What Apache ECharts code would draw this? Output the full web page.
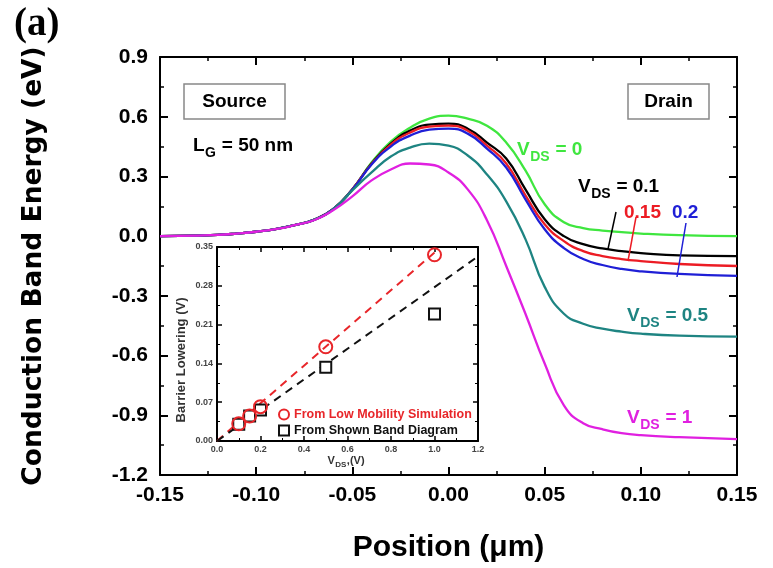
<!DOCTYPE html>
<html><head><meta charset="utf-8">
<script src="https://cdn.jsdelivr.net/npm/echarts@6/dist/echarts.min.js"></script>
<style>html,body{margin:0;padding:0;background:#fff}#c{width:773px;height:568px}</style>
</head><body><div id="c"></div>
<script>
// ---- main chart data ----
const positions = [-0.15, -0.13, -0.12, -0.11, -0.10, -0.09, -0.08, -0.07, -0.06, -0.05, -0.04, -0.03, -0.02, -0.01, 0.0, 0.01, 0.02, 0.03, 0.04, 0.05, 0.06, 0.07, 0.08, 0.09, 0.10, 0.12, 0.15];
const vds0   = [0, 0.003, 0.006, 0.013, 0.022, 0.035, 0.055, 0.082, 0.135, 0.235, 0.37, 0.475, 0.545, 0.59, 0.605, 0.59, 0.555, 0.47, 0.33, 0.16, 0.07, 0.04, 0.028, 0.02, 0.013, 0.005, 0];
const vds01  = [0, 0.003, 0.006, 0.013, 0.022, 0.035, 0.055, 0.082, 0.135, 0.235, 0.365, 0.465, 0.53, 0.56, 0.565, 0.54, 0.47, 0.39, 0.235, 0.085, 0.0, -0.04, -0.062, -0.075, -0.085, -0.097, -0.1];
const vds015 = [0, 0.003, 0.006, 0.013, 0.022, 0.035, 0.055, 0.082, 0.135, 0.235, 0.363, 0.46, 0.52, 0.55, 0.555, 0.53, 0.455, 0.365, 0.205, 0.06, -0.025, -0.075, -0.1, -0.115, -0.125, -0.14, -0.15];
const vds02  = [0, 0.003, 0.006, 0.013, 0.022, 0.035, 0.055, 0.082, 0.135, 0.234, 0.36, 0.45, 0.505, 0.535, 0.54, 0.515, 0.44, 0.345, 0.185, 0.035, -0.06, -0.115, -0.145, -0.165, -0.177, -0.19, -0.2];
const vds05  = [0, 0.003, 0.006, 0.013, 0.022, 0.035, 0.055, 0.082, 0.135, 0.23, 0.32, 0.40, 0.445, 0.465, 0.455, 0.405, 0.31, 0.175, -0.015, -0.255, -0.39, -0.44, -0.465, -0.48, -0.49, -0.5, -0.505];
const vds1   = [0, 0.003, 0.006, 0.013, 0.022, 0.035, 0.055, 0.08, 0.13, 0.20, 0.28, 0.335, 0.365, 0.36, 0.32, 0.235, 0.08, -0.15, -0.39, -0.64, -0.85, -0.94, -0.97, -0.99, -1.0, -1.01, -1.02];

// ---- inset data ----
const insetVds = [0.1, 0.15, 0.2, 0.5, 1.0];
const simLowering = [0.031, 0.045, 0.062, 0.17, 0.336];
const bandLowering = [0.03, 0.045, 0.056, 0.133, 0.229];
const simFitX = [0, 1.0];
const simFitY = [0, 0.34];
const bandFitX = [0, 1.2];
const bandFitY = [0, 0.333];

const zip = (xs, ys) => xs.map((x, i) => [x, ys[i]]);
const F = '"Liberation Sans", Arial, sans-serif';
const FD = '"DejaVu Sans", "Liberation Sans", sans-serif';

const mctx = document.createElement('canvas').getContext('2d');
function tw(text, font) { mctx.font = font; return mctx.measureText(text).width; }

// main text + subscript + rest, centered vertically on y (main text)
function subLabel(x, y, color, main, sub, rest, size, subSize) {
  const fm = 'bold ' + size + 'px ' + F;
  const fs = 'bold ' + subSize + 'px ' + F;
  const w1 = tw(main, fm), w2 = tw(sub, fs);
  const els = [
    {type: 'text', x: x, y: y, z: 10, style: {text: main, fill: color, font: fm, textVerticalAlign: 'middle'}},
    {type: 'text', x: x + w1 + 0.5, y: y + size * 0.38, z: 10, style: {text: sub, fill: color, font: fs, textVerticalAlign: 'middle'}}
  ];
  if (rest) els.push({type: 'text', x: x + w1 + w2 + 1, y: y, z: 10, style: {text: rest, fill: color, font: fm, textVerticalAlign: 'middle', whiteSpace: 'pre'}});
  return els;
}
function centeredSubLabel(cx, y, color, main, sub, rest, size, subSize) {
  const fm = 'bold ' + size + 'px ' + F, fs = 'bold ' + subSize + 'px ' + F;
  const total = tw(main, fm) + tw(sub, fs) + tw(rest, fm) + 1;
  return subLabel(cx - total / 2, y, color, main, sub, rest, size, subSize);
}

const chart = echarts.init(document.getElementById('c'), null, {renderer: 'canvas'});

function mainLine(name, ys, color) {
  return {type: 'line', name, xAxisIndex: 0, yAxisIndex: 0, data: zip(positions, ys),
    smooth: 0.5, showSymbol: false, symbol: 'none',
    lineStyle: {color, width: 2.3}, itemStyle: {color}, z: 3};
}

const axisCommon = {
  axisLine: {show: true, onZero: false, lineStyle: {color: '#000', width: 2}},
  axisTick: {show: true, inside: true, length: 8, lineStyle: {color: '#000', width: 2}},
  minorTick: {show: true, splitNumber: 2, length: 4, lineStyle: {color: '#000', width: 1.5}},
  splitLine: {show: false}
};
const insetAxis = {
  axisLine: {show: true, onZero: false, lineStyle: {color: '#000', width: 2}},
  axisTick: {show: true, inside: true, length: 5, lineStyle: {color: '#000', width: 1.5}},
  minorTick: {show: true, splitNumber: 2, length: 3, lineStyle: {color: '#000', width: 1}},
  splitLine: {show: false}
};

const graphics = [
  {type: 'text', left: 14, top: 5, style: {text: '(a)', fill: '#000', font: 'bold 39px "Liberation Serif", "Times New Roman", serif'}},
  {type: 'rect', shape: {x: 184, y: 84, width: 101, height: 35}, style: {fill: '#fff', stroke: '#888', lineWidth: 1.5}, z: 9},
  {type: 'text', x: 234.5, y: 101.5, z: 10, style: {text: 'Source', fill: '#000', textAlign: 'center', textVerticalAlign: 'middle', font: 'bold 19px ' + F}},
  {type: 'rect', shape: {x: 628, y: 84, width: 81, height: 35}, style: {fill: '#fff', stroke: '#888', lineWidth: 1.5}, z: 9},
  {type: 'text', x: 668.5, y: 101.5, z: 10, style: {text: 'Drain', fill: '#000', textAlign: 'center', textVerticalAlign: 'middle', font: 'bold 19px ' + F}},
  {type: 'text', x: 624, y: 213, z: 10, style: {text: '0.15', fill: '#ec1c24', textVerticalAlign: 'middle', font: 'bold 19px ' + F}},
  {type: 'text', x: 672, y: 213, z: 10, style: {text: '0.2', fill: '#1f1fd6', textVerticalAlign: 'middle', font: 'bold 19px ' + F}},
  {type: 'line', z: 10, shape: {x1: 616, y1: 212, x2: 608, y2: 249}, style: {stroke: '#000', lineWidth: 1.5}},
  {type: 'line', z: 10, shape: {x1: 636, y1: 217, x2: 628, y2: 261}, style: {stroke: '#ec1c24', lineWidth: 1.5}},
  {type: 'line', z: 10, shape: {x1: 686, y1: 223, x2: 677, y2: 277}, style: {stroke: '#1f1fd6', lineWidth: 1.5}},
  {type: 'text', x: 181, y: 360, rotation: Math.PI / 2, z: 10,
    style: {text: 'Barrier Lowering (V)', fill: '#333', font: 'bold 13px ' + F, textAlign: 'center', textVerticalAlign: 'middle'}}
]
  .concat(subLabel(193, 146, '#000', 'L', 'G', ' = 50 nm', 19, 14))
  .concat(subLabel(517, 150, '#3fe63f', 'V', 'DS', ' = 0', 19, 14))
  .concat(subLabel(578, 187, '#000', 'V', 'DS', ' = 0.1', 19, 14))
  .concat(subLabel(627, 316, '#1e8482', 'V', 'DS', ' = 0.5', 19, 14))
  .concat(subLabel(627, 418, '#e020e0', 'V', 'DS', ' = 1', 19, 14))
  .concat(centeredSubLabel(346, 461, '#333', 'V', 'DS', ',(V)', 11, 8));

const option = {
  animation: false,
  backgroundColor: '#fff',
  grid: [
    {left: 160, right: 36, top: 57, bottom: 90, containLabel: false},
    {left: 217, top: 247, width: 261, height: 194, show: true, backgroundColor: '#fff', borderWidth: 0}
  ],
  xAxis: [
    Object.assign({type: 'value', gridIndex: 0, min: -0.15, max: 0.15, interval: 0.05, position: 'bottom',
      name: 'Position (\u03bcm)', nameLocation: 'middle', nameGap: 58,
      nameTextStyle: {fontSize: 30, fontWeight: 'bold', fontFamily: F, color: '#000'},
      axisLabel: {fontSize: 21, fontWeight: 'bold', fontFamily: F, color: '#000', margin: 10,
        formatter: v => v.toFixed(2)}}, axisCommon),
    Object.assign({type: 'value', gridIndex: 0, min: -0.15, max: 0.15, interval: 0.05, position: 'top',
      axisLabel: {show: false}}, axisCommon),
    Object.assign({type: 'value', gridIndex: 1, min: 0, max: 1.2, interval: 0.2, position: 'bottom',
      axisLabel: {fontSize: 9, fontWeight: 'bold', fontFamily: F, color: '#444', margin: 4,
        formatter: v => v.toFixed(1)}}, insetAxis),
    Object.assign({type: 'value', gridIndex: 1, min: 0, max: 1.2, interval: 0.2, position: 'top',
      axisLabel: {show: false}}, insetAxis)
  ],
  yAxis: [
    Object.assign({type: 'value', gridIndex: 0, min: -1.2, max: 0.9, interval: 0.3, position: 'left',
      name: 'Conduction Band Energy (eV)', nameLocation: 'middle', nameGap: 112,
      nameTextStyle: {fontSize: 26.5, fontWeight: 'bold', fontFamily: FD, color: '#000'},
      axisLabel: {fontSize: 21, fontWeight: 'bold', fontFamily: F, color: '#000', margin: 12,
        formatter: v => v.toFixed(1)}}, axisCommon),
    Object.assign({type: 'value', gridIndex: 0, min: -1.2, max: 0.9, interval: 0.3, position: 'right',
      axisLabel: {show: false}}, axisCommon),
    Object.assign({type: 'value', gridIndex: 1, min: 0, max: 0.35, interval: 0.07, position: 'left',
      axisLabel: {fontSize: 9, fontWeight: 'bold', fontFamily: F, color: '#444', margin: 4,
        formatter: v => v.toFixed(2)}}, insetAxis),
    Object.assign({type: 'value', gridIndex: 1, min: 0, max: 0.35, interval: 0.07, position: 'right',
      axisLabel: {show: false}}, insetAxis)
  ],
  legend: {
    orient: 'vertical', left: 273, top: 403, itemGap: 3, itemWidth: 10, itemHeight: 10,
    data: [
      {name: 'From Low Mobility Simulation', textStyle: {color: '#e8262a'}},
      {name: 'From Shown Band Diagram', textStyle: {color: '#111'}}
    ],
    textStyle: {fontSize: 12.5, fontWeight: 'bold', fontFamily: F}
  },
  series: [
    mainLine('VDS=0', vds0, '#3fe63f'),
    mainLine('VDS=0.1', vds01, '#000000'),
    mainLine('VDS=0.15', vds015, '#ec1c24'),
    mainLine('VDS=0.2', vds02, '#1f1fd6'),
    mainLine('VDS=0.5', vds05, '#1e8482'),
    mainLine('VDS=1', vds1, '#e020e0'),
    {type: 'line', name: 'simfit', xAxisIndex: 2, yAxisIndex: 2, data: zip(simFitX, simFitY),
      showSymbol: false, symbol: 'none', lineStyle: {color: '#e8262a', width: 2, type: [8, 6]}, z: 4},
    {type: 'line', name: 'bandfit', xAxisIndex: 2, yAxisIndex: 2, data: zip(bandFitX, bandFitY),
      showSymbol: false, symbol: 'none', lineStyle: {color: '#111', width: 2, type: [8, 6]}, z: 4},
    {type: 'scatter', name: 'From Shown Band Diagram', xAxisIndex: 2, yAxisIndex: 2, data: zip(insetVds, bandLowering),
      symbol: 'rect', symbolSize: 11, itemStyle: {color: '#fff', borderColor: '#111', borderWidth: 2, opacity: 1}, z: 5},
    {type: 'scatter', name: 'From Low Mobility Simulation', xAxisIndex: 2, yAxisIndex: 2, data: zip(insetVds, simLowering),
      symbol: 'circle', symbolSize: 13, itemStyle: {color: 'rgba(255,255,255,0)', borderColor: '#e8262a', borderWidth: 2, opacity: 1}, z: 6}
  ],
  graphic: graphics
};
chart.setOption(option);
</script>
</body></html>
